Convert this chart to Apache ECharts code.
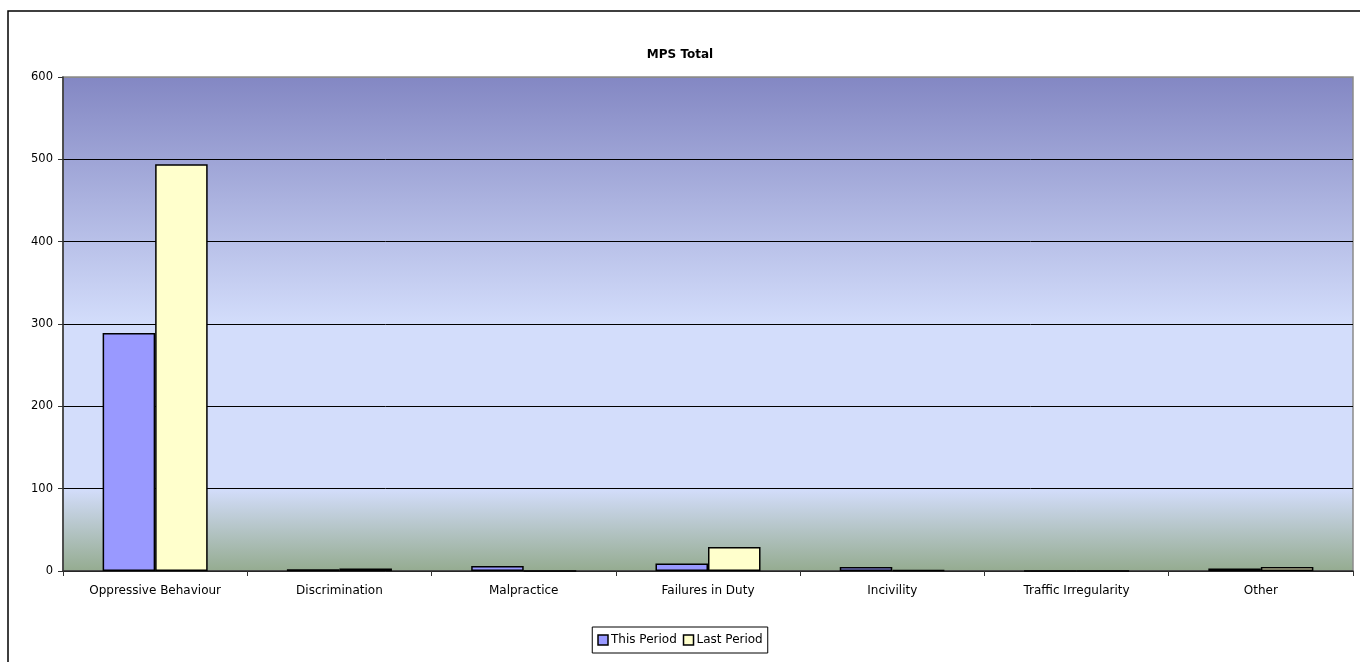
<!DOCTYPE html>
<html>
<head>
<meta charset="utf-8">
<script src="https://cdn.jsdelivr.net/npm/echarts@6/dist/echarts.min.js"></script>
<style>
html,body{margin:0;padding:0;background:#fff;}
#chart{width:1360px;height:662px;}
</style>
</head>
<body>
<div id="chart"></div>
<script>
const categories = ['Oppressive Behaviour','Discrimination','Malpractice','Failures in Duty','Incivility','Traffic Irregularity','Other'];
const thisPeriod = [289, 2, 6, 9, 5, 0, 3];
const lastPeriod = [494, 3, 0, 29, 1, 0, 5];
const yTicks = [0, 100, 200, 300, 400, 500, 600];

const FONT = 'DejaVu Sans';
const chart = echarts.init(document.getElementById('chart'));
chart.setOption({
  animation: false,
  textStyle: { fontFamily: FONT },
  title: {
    text: 'MPS Total', left: 'center', top: 44,
    textStyle: { fontSize: 12, fontWeight: 'bold', color: '#000', fontFamily: FONT }
  },
  graphic: [{
    type: 'rect', silent: true, z: -1,
    shape: { x: 8, y: 11, width: 1400, height: 700 },
    style: { fill: 'none', stroke: '#000', lineWidth: 1.5 }
  }],
  legend: {
    bottom: 9, left: 'center',
    itemWidth: 10, itemHeight: 10, itemGap: 6,
    borderColor: '#000', borderWidth: 1, padding: [7, 5, 7, 5],
    textStyle: { fontSize: 12, color: '#000', fontFamily: FONT, padding: [0,0,0,-2] },
    data: [
      { name: 'This Period', icon: 'rect', itemStyle: { color: '#9999FF', borderColor: '#000', borderWidth: 1.5 } },
      { name: 'Last Period', icon: 'rect', itemStyle: { color: '#FFFFCC', borderColor: '#000', borderWidth: 1.5 } }
    ]
  },
  grid: {
    left: 63, right: 7, top: 77, bottom: 91,
    show: true, borderColor: '#8a8a8a', borderWidth: 1.5,
    backgroundColor: new echarts.graphic.LinearGradient(0, 0, 0, 1, [
      { offset: 0, color: '#8387C3' },
      { offset: 0.5, color: '#D3DDFB' },
      { offset: 0.833, color: '#D3DDFB' },
      { offset: 1, color: '#94AB8F' }
    ])
  },
  xAxis: {
    type: 'category', data: categories,
    axisLine: { lineStyle: { color: '#333', width: 1.5 } },
    axisTick: { show: true, length: 5, lineStyle: { color: '#333' } },
    axisLabel: { color: '#000', fontSize: 12, margin: 14, fontFamily: FONT, interval: 0 }
  },
  yAxis: {
    type: 'value', min: 0, max: 600, interval: 100,
    axisLine: { show: true, lineStyle: { color: '#333', width: 1.5 } },
    axisTick: { show: true, length: 5, lineStyle: { color: '#333' } },
    axisLabel: { color: '#000', fontSize: 11.5, margin: 10, fontFamily: FONT,
      formatter: v => yTicks.includes(v) ? String(v) : '' },
    splitLine: { show: true, lineStyle: { color: ['#000','#000','#000','#000','#000','#000','#8a8a8a'], width: 1 } }
  },
  series: [
    { name: 'This Period', type: 'bar', data: thisPeriod, barGap: '0%', barCategoryGap: '43%',
      itemStyle: { color: '#9999FF', borderColor: '#000', borderWidth: 1.5 } },
    { name: 'Last Period', type: 'bar', data: lastPeriod, barGap: '0%', barCategoryGap: '43%',
      itemStyle: { color: '#FFFFCC', borderColor: '#000', borderWidth: 1.5 } }
  ]
});
</script>
</body>
</html>
